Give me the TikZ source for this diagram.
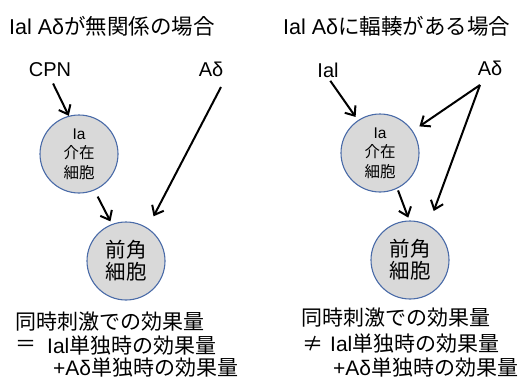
\documentclass[tikz,border=0pt]{standalone}
\usepackage{fontspec}
\setmainfont{Noto Sans CJK JP}
\newfontfamily\lat{Liberation Sans}
\usetikzlibrary{arrows.meta}
\definecolor{cellfill}{HTML}{D9D9D9}
\definecolor{cellline}{HTML}{4A6BA8}
\tikzset{
  cell/.style={circle, draw=cellline, line width=1.1pt, fill=cellfill, minimum size=78pt, inner sep=0pt, align=center},
  smallcell/.style={cell, font=\fontsize{15.5}{19.5}\selectfont},
  bigcell/.style={cell, font=\fontsize{20.5}{22}\selectfont},
  lbl/.style={font=\lat\fontsize{20}{22}\selectfont, inner sep=0pt},
  ttl/.style={anchor=west, font=\fontsize{21.5}{24}\selectfont, inner sep=0pt},
  txt/.style={anchor=west, font=\fontsize{21}{24}\selectfont, inner sep=0pt},
  arr/.style={line width=2pt, -{Straight Barb[length=8pt,width=13pt,line width=2pt]}},
}
\begin{document}
\begin{tikzpicture}[x=1pt,y=-1pt]
\useasboundingbox (0,0) rectangle (522,380);
% titles
\node[ttl] (t1) at (9,26) {{\lat Ial Aδ}が無関係の場合};
\node[ttl] (t2) at (283,26) {{\lat Ial Aδ}に輻輳がある場合};
% left panel
\node[lbl] (cpn) at (50,70) {CPN};
\node[lbl] (ad1) at (211,69) {Aδ};
\coordinate (s1) at (221,87);
\node[smallcell] (ia1) at (79,154) {{\lat Ia}\\介在\\細胞};
\node[bigcell] (an1) at (126,261) {前角\\細胞};
\draw[arr, shorten <=7pt] (cpn.south) -- (ia1.105);
\draw[arr, shorten >=13pt] (s1) -- (an1.57);
\draw[arr, shorten <=7pt, shorten >=3pt] (ia1.-67) -- (an1.111);
% right panel
\node[lbl] (ial) at (328,70) {Ial};
\node[lbl] (ad2) at (490,68) {Aδ};
\coordinate (s2) at (480,85);
\node[smallcell] (ia2) at (380,153) {{\lat Ia}\\介在\\細胞};
\node[bigcell] (an2) at (410,260) {前角\\細胞};
\draw[arr, shorten <=4pt, shorten >=4pt] (ial.south) -- (ia2.124);
\draw[arr, shorten >=8pt] (s2) -- (ia2.34);
\draw[arr, shorten >=15pt] (s2) -- (an2.62);
\draw[arr, shorten <=2pt, shorten >=3pt] (ia2.-64) -- (an2.91);
% bottom texts left
\node[txt] (l1) at (15,322) {同時刺激での効果量};
\node[txt] (l2a) at (15,346) {＝};
\node[txt] (l2) at (47,346) {{\lat Ial}単独時の効果量};
\node[txt] (l3) at (53,368) {{\lat +Aδ}単独時の効果量};
% bottom texts right
\node[txt] (r1) at (301,318) {同時刺激での効果量};
\node[txt] (r2a) at (302,344) {≠};
\node[txt] (r2) at (330,344) {{\lat Ial}単独時の効果量};
\node[txt] (r3) at (333,368) {{\lat +Aδ}単独時の効果量};
\end{tikzpicture}
\end{document}
